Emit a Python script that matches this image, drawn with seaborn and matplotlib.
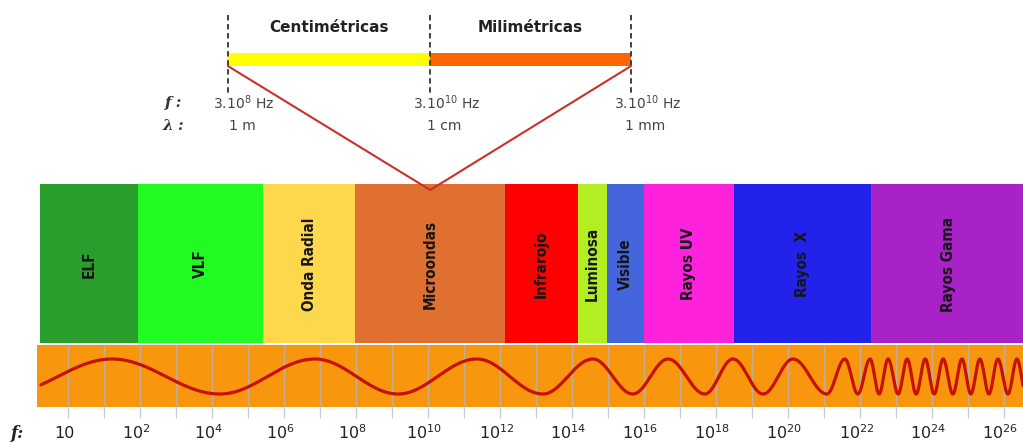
import numpy as np
import pandas as pd
import matplotlib
matplotlib.use('Agg')
import matplotlib.pyplot as plt
import seaborn as sns

# Spectrum bands, edges on the bottom frequency scale (decades)
band_names = ['ELF', 'VLF', 'Onda Radial', 'Microondas', 'Infrarojo', 'Luminosa',
              'Visible', 'Rayos UV', 'Rayos  X', 'Rayos Gama']
band_edges = [-0.78, 1.94, 5.42, 7.97, 12.14, 14.17, 14.97, 16.0, 18.5, 22.3, 26.6]
band_colors = ['#2a9e2a', '#22fb22', '#fed84c', '#e07030', '#ff0000', '#b2ee22',
               '#4565dc', '#ff22dd', '#2222ea', '#a822c8']

# bottom frequency ticks
tick_pos = [0, 2, 4, 6, 8, 10, 12, 14, 16, 18, 20, 22, 24, 26]
tick_labels = ['10', '$10^{2}$', '$10^{4}$', '$10^{6}$', '$10^{8}$', '$10^{10}$',
               '$10^{12}$', '$10^{14}$', '$10^{16}$', '$10^{18}$', '$10^{20}$',
               '$10^{22}$', '$10^{24}$', '$10^{26}$']

# crests (+1) and troughs (-1) of the drawn wave
wave_x = [-1.78, 1.22, 4.22, 6.86, 9.17, 11.36, 13.19, 14.58, 15.69, 16.67, 17.69,
          18.47, 19.31, 20.14, 21.08, 21.58, 21.94, 22.28, 22.53, 22.78, 23.06,
          23.31, 23.56, 23.81, 24.06, 24.31, 24.58, 24.83, 25.08, 25.33, 25.58,
          25.83, 26.11, 26.36, 26.61]
wave_v = [-1, 1, -1, 1, -1, 1, -1, 1, -1, 1, -1, 1, -1, 1, -1, 1, -1, 1, -1, 1,
          -1, 1, -1, 1, -1, 1, -1, 1, -1, 1, -1, 1, -1, 1, -1]

# microwave detail at the top
zoom_x = [4.44, 10.06, 15.64]
zoom_freq = ['3.$10^{8}$ Hz', '3.$10^{10}$ Hz', '3.$10^{10}$ Hz']
zoom_lambda = ['1 m', '1 cm', '1 mm']
zoom_names = ['Centimétricas', 'Milimétricas']
zoom_colors = ['#ffff00', '#ff6600']
apex_x = 10.06

sns.set_theme(style='white')
plt.rcParams['font.family'] = ['DejaVu Sans']

fig = plt.figure(figsize=(10.23, 4.43), dpi=100)
ax = fig.add_axes([0, 0, 1, 1])
ax.set_xlim(-68 / 36, (1023 - 68) / 36)
ax.set_ylim(443, 0)
ax.axis('off')

# bands
edges = np.array(band_edges)
ax.bar(edges[:-1], 159, width=np.diff(edges), bottom=184, align='edge',
       color=band_colors, linewidth=0)
for name, l, r in zip(band_names, edges[:-1], edges[1:]):
    ax.text((l + r) / 2, 264, name, rotation=90, ha='center', va='center',
            fontsize=11, fontweight='bold', fontstretch='condensed',
            color='#161616', family='DejaVu Sans')

# orange strip with the wave
ax.bar(-0.86, 62, width=edges[-1] + 0.86, bottom=345, align='edge',
       color='#f8960e', linewidth=0)
ax.vlines(np.arange(0, 27), 345, 418, color='#aabbd4', lw=1, alpha=0.7)

xs = np.linspace(-0.75, 26.53, 4000)
wx = np.array(wave_x)
wv = np.array(wave_v)
k = np.clip(np.searchsorted(wx, xs) - 1, 0, len(wx) - 2)
t = (xs - wx[k]) / (wx[k + 1] - wx[k])
vals = wv[k] * np.cos(np.pi * t)
wave = pd.DataFrame({'x': xs, 'y': 376.5 - 17.5 * vals})
sns.lineplot(data=wave, x='x', y='y', ax=ax, color='#c81000', lw=2.3,
             estimator=None, sort=False)
ax.set_ylim(443, 0)
ax.axis('off')

for p, lab in zip(tick_pos, tick_labels):
    ax.text(p - 0.1, 433, lab, ha='center', va='center', fontsize=11.5, color='#222222')
ax.text(-1.39, 433, 'f:', ha='center', va='center', fontsize=12, color='#222222',
        family='DejaVu Serif', style='italic', fontweight='bold')

# top detail: coloured bar, dashed limits, captions
for i in range(2):
    ax.bar(zoom_x[i], 13, width=zoom_x[i + 1] - zoom_x[i], bottom=53, align='edge',
           color=zoom_colors[i], linewidth=0)
    ax.text((zoom_x[i] + zoom_x[i + 1]) / 2, 27, zoom_names[i], ha='center',
            va='center', fontsize=11, fontweight='bold', color='#222222')
ax.vlines(zoom_x, 15, 96, color='#333333', lw=1.3, linestyles=(0, (3, 2)))
ax.plot([zoom_x[0], apex_x, zoom_x[2]], [66, 190, 66], color='#c8302c', lw=1.5)

for zx, fq, lm in zip(zoom_x, zoom_freq, zoom_lambda):
    ax.text(zx + 0.45, 103, fq, ha='center', va='center', fontsize=10, color='#444444')
    ax.text(zx + 0.4, 126, lm, ha='center', va='center', fontsize=10, color='#444444')
ax.text(zoom_x[0] - 1.5, 103, 'f :', ha='center', va='center', fontsize=11,
        color='#333333', family='DejaVu Serif', style='italic', fontweight='bold')
ax.text(zoom_x[0] - 1.5, 126, 'λ :', ha='center', va='center', fontsize=11,
        color='#333333', family='DejaVu Serif', style='italic', fontweight='bold')

fig.savefig('out.png', dpi=100)
